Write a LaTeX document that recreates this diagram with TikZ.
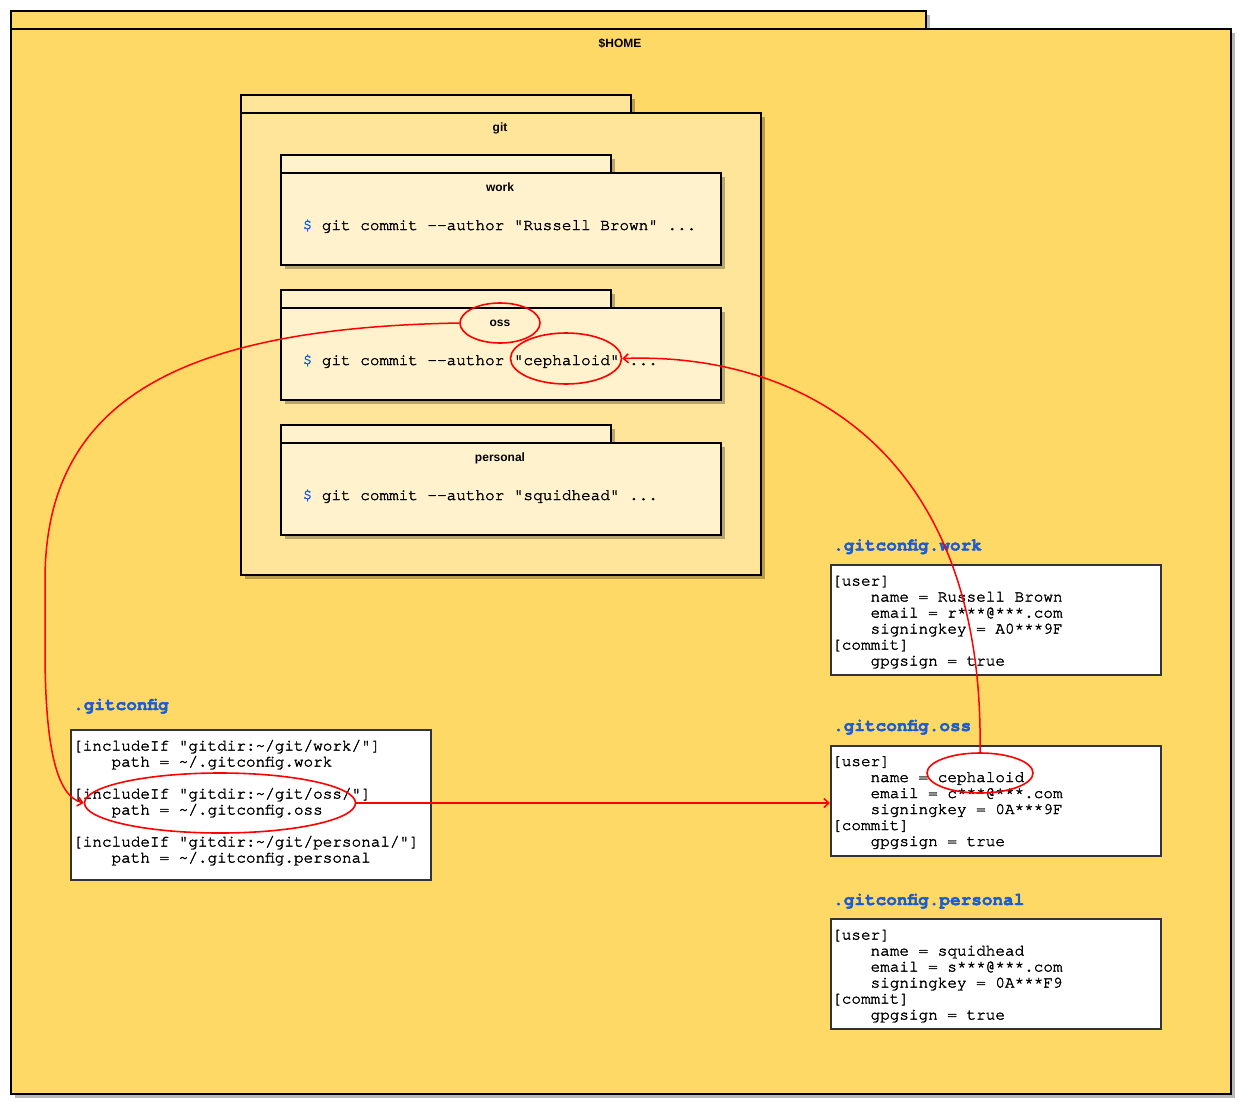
\documentclass[tikz,border=0pt]{standalone}
\usepackage{fontspec}
\setmainfont{Liberation Sans}
\newfontfamily\codefont{TeX Gyre Cursor}[UprightFeatures={FakeBold=2}, BoldFeatures={FakeBold=2.5}]
\usetikzlibrary{shapes.geometric,arrows.meta,shadows}
\definecolor{homefill}{HTML}{FFD966}
\definecolor{gitfill}{HTML}{FFE599}
\definecolor{subfill}{HTML}{FFF2CC}
\definecolor{hblue}{RGB}{26,92,210}
\definecolor{boxline}{HTML}{333333}
\newcommand\myind{\hspace*{38.4pt}}
\newcommand\cfgl[1]{\hbox{#1}}
\newcommand\cfgblock[1]{\vtop{\baselineskip=16pt\lineskiplimit=-100pt\lineskip=0pt #1}}
\tikzset{
  folder/.style={draw=black, line width=2pt, anchor=north west, inner sep=0pt,
    drop shadow={shadow xshift=4pt, shadow yshift=-4pt, fill=black, opacity=0.28}},
  flabel/.style={anchor=base, inner sep=0pt, font=\bfseries\fontsize{12}{14}\selectfont},
  cmd/.style={anchor=base west, inner sep=0pt, font=\codefont\fontsize{16}{16}\selectfont},
  cfgbox/.style={draw=boxline, line width=2pt, fill=white, anchor=north west, inner sep=0pt},
  cfgtext/.style={anchor=base west, inner sep=0pt, font=\codefont\fontsize{16}{16}\selectfont},
  heading/.style={anchor=base west, inner sep=0pt, text=hblue, font=\codefont\bfseries\fontsize{17.7}{20}\selectfont},
  redell/.style={ellipse, draw=red, line width=1.6pt, inner sep=0pt},
  redline/.style={draw=red, line width=1.5pt, -{Straight Barb[length=5pt,width=9pt]}}
}
\begin{document}
\begin{tikzpicture}[x=1pt, y=-1pt]
\useasboundingbox (0,0) rectangle (1258,1114);
% HOME
\node[folder, fill=homefill, minimum width=915pt, minimum height=18pt] (hometab) at (10,10) {};
\node[folder, fill=homefill, minimum width=1220pt, minimum height=1065pt] (home) at (10,28) {};
\node[flabel] (homelbl) at (620,47) {\$HOME};
% git
\node[folder, fill=gitfill, minimum width=390pt, minimum height=18pt] (gittab) at (240,94) {};
\node[folder, fill=gitfill, minimum width=520pt, minimum height=462pt] (git) at (240,112) {};
\node[flabel] (gitlbl) at (500,131) {git};
% work
\node[folder, fill=subfill, minimum width=330pt, minimum height=18pt] (worktab) at (280,154) {};
\node[folder, fill=subfill, minimum width=440pt, minimum height=92pt] (work) at (280,172) {};
\node[flabel] (worklbl) at (500,191) {work};
\node[cmd] (workcmd) at (302.5,230) {\textcolor{hblue}{\$} git commit -{}-author "Russell Brown" ...};
% oss
\node[folder, fill=subfill, minimum width=330pt, minimum height=18pt] (osstab) at (280,289) {};
\node[folder, fill=subfill, minimum width=440pt, minimum height=92pt] (oss) at (280,307) {};
\node[flabel] (osslbl) at (500,326) {oss};
\node[cmd] (osscmd) at (302.5,365) {\textcolor{hblue}{\$} git commit -{}-author "cephaloid" ...};
% personal
\node[folder, fill=subfill, minimum width=330pt, minimum height=18pt] (perstab) at (280,424) {};
\node[folder, fill=subfill, minimum width=440pt, minimum height=92pt] (pers) at (280,442) {};
\node[flabel] (perslbl) at (500,461) {personal};
\node[cmd] (perscmd) at (302.5,500) {\textcolor{hblue}{\$} git commit -{}-author "squidhead" ...};
% .gitconfig
\node[heading] (hgc) at (73,710) {.gitconfig};
\node[cfgbox, minimum width=360pt, minimum height=150pt] (gc) at (70,729) {};
\node[cfgtext] (gctext) at (73,750.5) {\cfgblock{%
  \cfgl{[includeIf "gitdir:\textasciitilde/git/work/"]}%
  \cfgl{\myind path = \textasciitilde/.gitconfig.work}%
  \cfgl{}%
  \cfgl{[includeIf "gitdir:\textasciitilde/git/oss/"]}%
  \cfgl{\myind path = \textasciitilde/.gitconfig.oss}%
  \cfgl{}%
  \cfgl{[includeIf "gitdir:\textasciitilde/git/personal/"]}%
  \cfgl{\myind path = \textasciitilde/.gitconfig.personal}}};
% .gitconfig.work
\node[heading] (hgw) at (833,550.5) {.gitconfig.work};
\node[cfgbox, minimum width=330pt, minimum height=110pt] (gcw) at (830,564) {};
\node[cfgtext] (gcwtext) at (832,585.5) {\cfgblock{%
  \cfgl{[user]}%
  \cfgl{\myind name = Russell Brown}%
  \cfgl{\myind email = r***@***.com}%
  \cfgl{\myind signingkey = A0***9F}%
  \cfgl{[commit]}%
  \cfgl{\myind gpgsign = true}}};
% .gitconfig.oss
\node[heading] (hgo) at (833,731) {.gitconfig.oss};
\node[cfgbox, minimum width=330pt, minimum height=110pt] (gco) at (830,745) {};
\node[cfgtext] (gcotext) at (832,766) {\cfgblock{%
  \cfgl{[user]}%
  \cfgl{\myind name = cephaloid}%
  \cfgl{\myind email = c***@***.com}%
  \cfgl{\myind signingkey = 0A***9F}%
  \cfgl{[commit]}%
  \cfgl{\myind gpgsign = true}}};
% .gitconfig.personal
\node[heading] (hgp) at (833,905) {.gitconfig.personal};
\node[cfgbox, minimum width=330pt, minimum height=110pt] (gcp) at (830,918) {};
\node[cfgtext] (gcptext) at (832,939.5) {\cfgblock{%
  \cfgl{[user]}%
  \cfgl{\myind name = squidhead}%
  \cfgl{\myind email = s***@***.com}%
  \cfgl{\myind signingkey = 0A***F9}%
  \cfgl{[commit]}%
  \cfgl{\myind gpgsign = true}}};
% red ellipses
\node[redell, minimum width=80pt, minimum height=40pt] (ossell) at (500,323) {};
\node[redell, minimum width=111pt, minimum height=51pt] (ceph1) at (566,358.5) {};
\node[redell, minimum width=271pt, minimum height=60pt] (gcell) at (220,803) {};
\node[redell, minimum width=106pt, minimum height=40pt] (ceph2) at (980,773) {};
% connectors
\draw[redline] (ossell.west) .. controls (180,328) and (45,400) .. (45,580)
  -- (45,650) .. controls (45,760) and (60,797) .. (gcell.west);
\draw[redline] (gcell.east) -- (gcell.east -| gco.west);
\draw[redline] (ceph2.north) .. controls (985,450) and (800,352) .. (ceph1.east);
\end{tikzpicture}
\end{document}
